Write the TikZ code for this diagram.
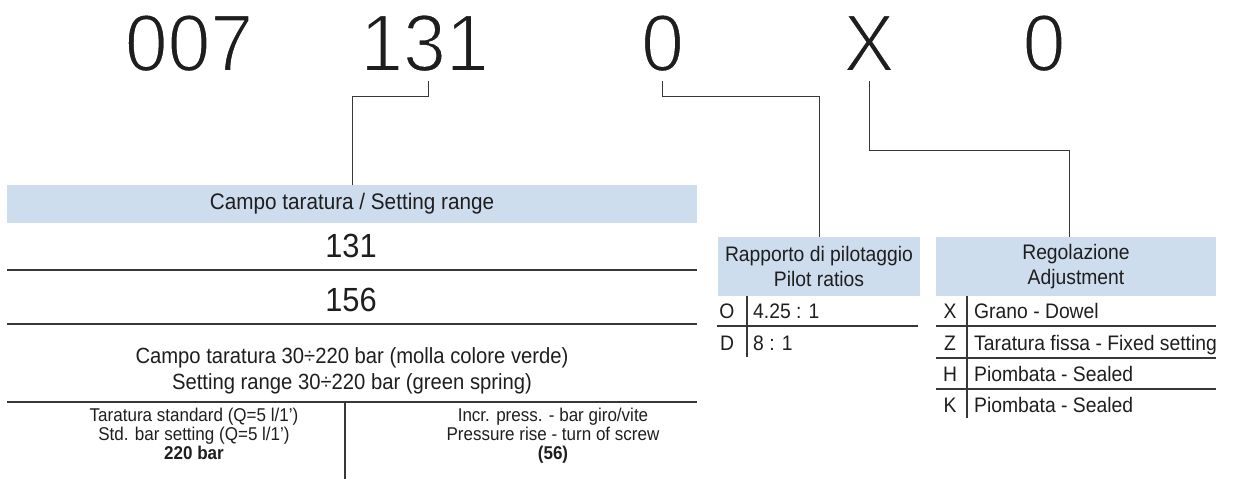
\documentclass[tikz,border=0pt]{standalone}
\usepackage{fontspec}
\setmainfont{Liberation Sans}
\newfontfamily\condfont[FakeStretch=0.92]{Liberation Sans}
\newfontfamily\codefont[FakeStretch=0.95]{Liberation Sans}
\usetikzlibrary{positioning}

\definecolor{headblue}{RGB}{205,221,238}
\definecolor{rulegray}{RGB}{55,55,55}
\definecolor{inkgray}{RGB}{30,30,30}

% thinner strokes for the big code digits
\newcommand\thincode[1]{\special{pdf:code q 2 Tr 1 1 1 RG 1.8 w}#1\special{pdf:code Q}}

\tikzset{
  bignum/.style={anchor=base, inner sep=0pt, text=inkgray, font=\codefont\fontsize{81}{81}\selectfont},
  headcell/.style={fill=headblue, inner sep=0pt, align=center, text=inkgray,
                   font=\condfont\fontsize{21}{25}\selectfont},
  celltext/.style={anchor=base, inner sep=0pt, text=inkgray, font=\condfont\fontsize{21}{25}\selectfont},
  smalltext/.style={anchor=base, inner sep=0pt, text=inkgray, font=\condfont\fontsize{18.5}{19}\selectfont},
  conn/.style={draw=rulegray, line width=1pt},
  rule/.style={draw=rulegray, line width=1.2pt}
}

\begin{document}
\begin{tikzpicture}[x=1pt, y=-1pt]

 \useasboundingbox (0,0) rectangle (1234,479);

 % code
 \node[bignum] (c007) at (189,71) {\thincode{007}};
 \node[bignum] (c131) at (424.5,71) {\thincode{131}};
 \node[bignum] (c0a) at (662.5,71) {\thincode{0}};
 \node[bignum] (cX) at (869,71) {\thincode{X}};
 \node[bignum] (c0b) at (1044,71) {\thincode{0}};

 % headers
 \node[headcell, minimum width=690pt, minimum height=38pt, font=\condfont\fontsize{22.5}{25}\selectfont] (setHead) at (352,204) {Campo taratura / Setting range};
 \node[headcell, minimum width=202pt, minimum height=59pt] (rapHead) at (819,266.5) {Rapporto di pilotaggio\\Pilot ratios};
 \node[headcell, minimum width=280pt, minimum height=59pt] (regHead) at (1076,266.5) {Regolazione\\Adjustment};

 \draw[conn] ([xshift=3.5pt, yshift=-10pt]c131.base) -- ++(0,15) -| (setHead.north);
 \draw[conn] ([yshift=-10pt]c0a.base) -- ++(0,15) -| (rapHead.north);
 \draw[conn] ([yshift=-10pt]cX.base) -- ++(0,69) -| ([xshift=-7pt]regHead.north);

 % setting range table
 \node[celltext, font=\condfont\fontsize{33.5}{34}\selectfont] (r131) at (351,257) {131};
 \node[celltext, font=\condfont\fontsize{33.5}{34}\selectfont] (r156) at (351,311) {156};
 \draw[rule] (7,270) -- (697,270);
 \draw[rule] (7,324) -- (697,324);
 \node[celltext, font=\condfont\fontsize{22}{22}\selectfont] (rangeIt) at (352,363) {Campo taratura 30÷220 bar (molla colore verde)};
 \node[celltext, font=\condfont\fontsize{22}{22}\selectfont] (rangeEn) at (352,389) {Setting range 30÷220 bar (green spring)};
 \draw[rule] (7,402) -- (697,402);
 \draw[rule] (345,402) -- (345,479);

 \node[smalltext] (stdIt) at (194,421) {Taratura standard (Q=5 l/1’)};
 \node[smalltext] (stdEn) at (194,440) {Std. bar setting (Q=5 l/1’)};
 \node[smalltext, font=\condfont\bfseries\fontsize{18.5}{19}\selectfont] (stdVal) at (194,459) {220 bar};
 \node[smalltext] (incIt) at (553,421) {Incr. press. - bar giro/vite};
 \node[smalltext] (incEn) at (553,440) {Pressure rise - turn of screw};
 \node[smalltext, font=\condfont\bfseries\fontsize{18.5}{19}\selectfont] (incVal) at (553,459) {(56)};

 % pilot ratios
 \foreach \k/\t/\y [count=\i] in {O/4.25 : 1/318.5, D/8 : 1/350.5}
 {
   \node[celltext] (rapK\i) at (727,\y) {\k};
   \node[celltext, anchor=base west] (rapT\i) at (753,\y) {\t};
 }
 \draw[rule] (717,326) -- (918,326);
 \draw[rule] (747,296) -- (747,357);

 % adjustment
 \foreach \k/\t/\y [count=\i] in {X/Grano - Dowel/318.5, Z/Taratura fissa - Fixed setting/350.5,
                                   H/Piombata - Sealed/381.5, K/Piombata - Sealed/412.5}
 {
   \node[celltext] (regK\i) at (950,\y) {\k};
   \node[celltext, anchor=base west] (regT\i) at (974,\y) {\t};
 }
 \foreach \y in {326,358,389}
   \draw[rule] (936,\y) -- (1216,\y);
 \draw[rule] (967,296) -- (967,418);

\end{tikzpicture}
\end{document}
